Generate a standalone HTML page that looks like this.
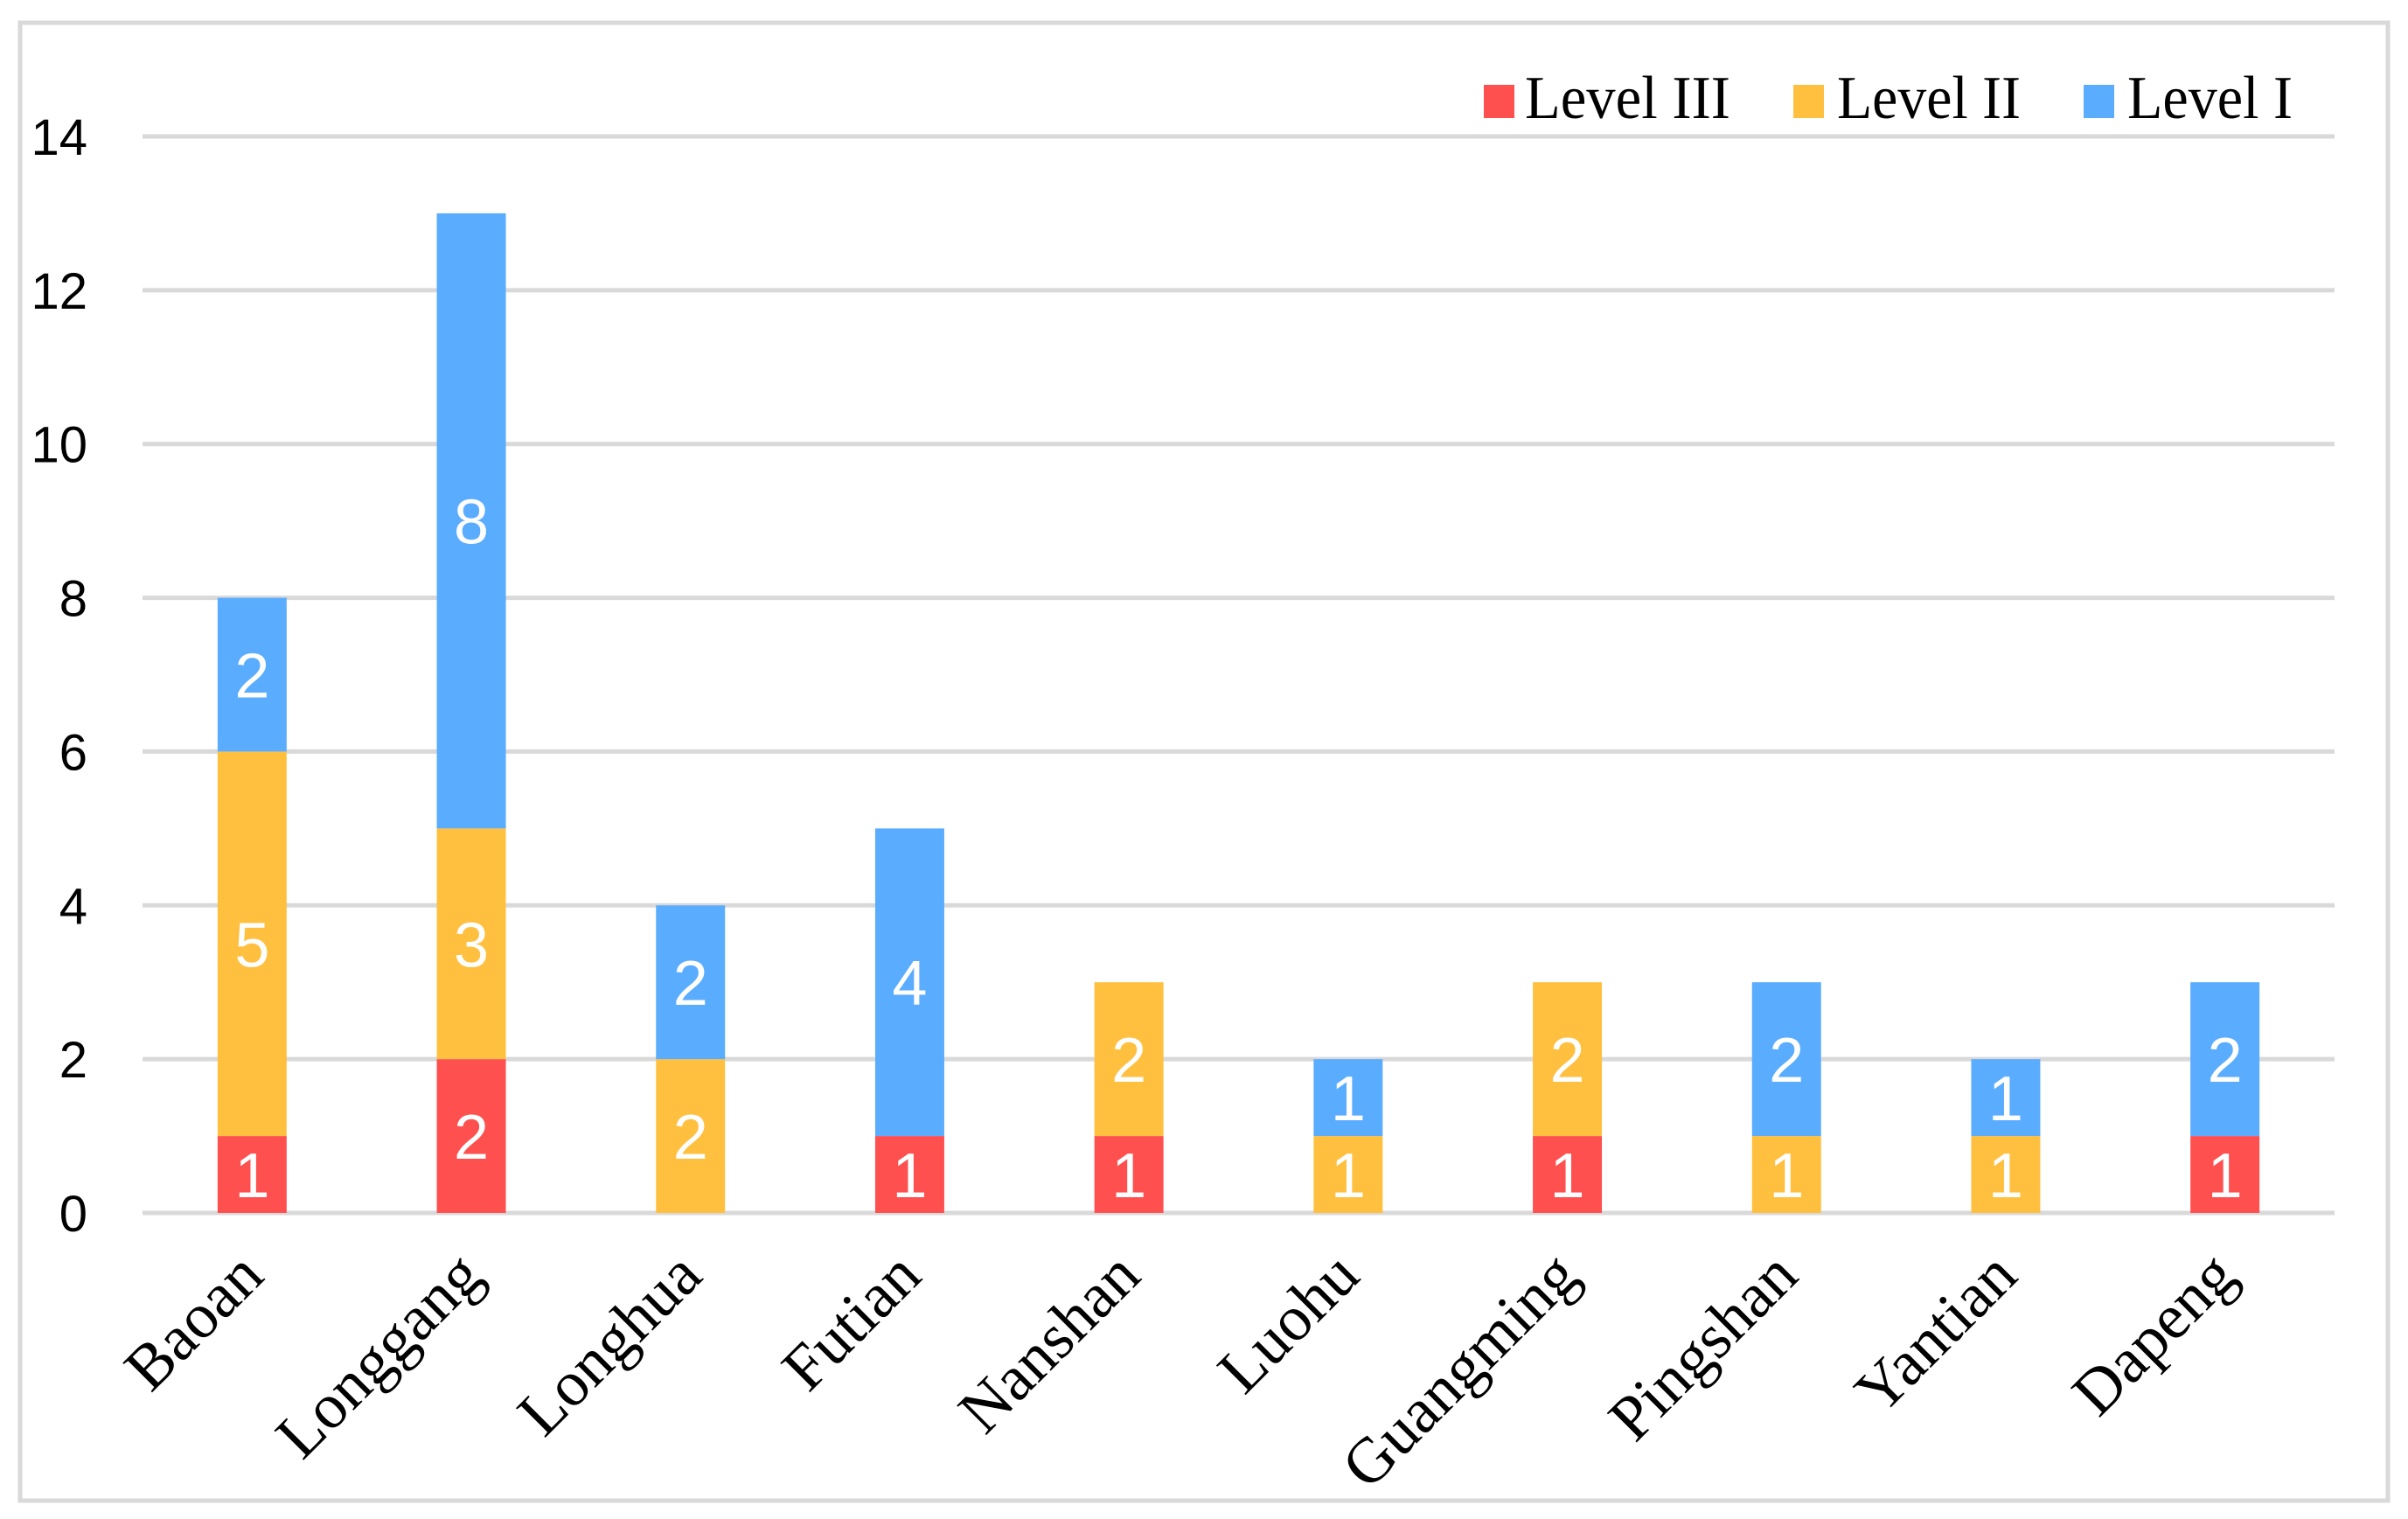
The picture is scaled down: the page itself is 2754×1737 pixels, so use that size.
<!DOCTYPE html>
<html><head><meta charset="utf-8"><style>html,body{margin:0;padding:0;background:#fff}svg{display:block}</style></head>
<body>
<svg id="chart" width="2754" height="1737" viewBox="0 0 2754 1737" xmlns="http://www.w3.org/2000/svg">
<rect x="23" y="26" width="2708" height="1690" fill="#fff" stroke="#D9D9D9" stroke-width="5"/>
<g id="grid"></g><g id="bars"></g><g id="labels"></g>
<g>
<rect x="1697" y="97" width="35" height="38" fill="#FF5050"/>
<text x="1744" y="135" font-family="Liberation Serif, serif" font-size="70" textLength="235" lengthAdjust="spacingAndGlyphs">Level III</text>
<rect x="2051" y="97" width="35" height="38" fill="#FFC040"/>
<text x="2101" y="135" font-family="Liberation Serif, serif" font-size="70" textLength="210" lengthAdjust="spacingAndGlyphs">Level II</text>
<rect x="2383" y="97" width="35" height="38" fill="#5AACFF"/>
<text x="2433" y="135" font-family="Liberation Serif, serif" font-size="70" textLength="189" lengthAdjust="spacingAndGlyphs">Level I</text>
</g>
</svg>
<script>
const categories = ["Baoan","Longgang","Longhua","Futian","Nanshan","Luohu","Guangming","Pingshan","Yantian","Dapeng"];
const levelIII = [1,2,0,1,1,0,1,0,0,1];
const levelII = [5,3,2,0,2,1,2,1,1,0];
const levelI = [2,8,2,4,0,1,0,2,1,2];
const yTicks = [0,2,4,6,8,10,12,14];

const NS = "http://www.w3.org/2000/svg";
const plotL = 163, plotR = 2670, y0 = 1387, yTop = 156, yMax = 14;
const y = v => y0 - (y0 - yTop) * v / yMax;
const band = (plotR - plotL) / categories.length;
const xc = i => plotL + band * (i + 0.5);
const barW = band * 0.315;
function mk(tag, attrs, parent) { const e = document.createElementNS(NS, tag); for (const k in attrs) e.setAttribute(k, attrs[k]); parent.appendChild(e); return e; }
const grid = document.getElementById('grid'), bars = document.getElementById('bars'), labels = document.getElementById('labels');
yTicks.forEach(t => {
  const l = mk('line', {x1: plotL, x2: plotR, y1: y(t), y2: y(t), stroke: '#D9D9D9', 'stroke-width': 5}, grid);
  
  
  const tx = mk('text', {x: 100, y: y(t) + 21, 'text-anchor': 'end', 'font-family': 'Liberation Sans, sans-serif', 'font-size': 58, fill: '#000'}, labels);
  tx.textContent = t;
  
  
});
const series = [["level-iii", levelIII, "#FF5050"], ["level-ii", levelII, "#FFC040"], ["level-i", levelI, "#5AACFF"]];
categories.forEach((c, i) => {
  let base = 0;
  series.forEach(([name, vals, col]) => {
    const v = vals[i];
    if (v > 0) {
      const r = mk('rect', {x: xc(i) - barW / 2, y: y(base + v), width: barW, height: y(base) - y(base + v), fill: col}, bars);
      
      
      const t = mk('text', {x: xc(i), y: (y(base) + y(base + v)) / 2 + 26, 'text-anchor': 'middle', 'font-family': 'Liberation Sans, sans-serif', 'font-size': 72, fill: '#fff'}, labels);
      t.textContent = v;
      
      
    }
    base += v;
  });
  const lx = xc(i) + 16, ly = 1462;
  const t = mk('text', {x: lx, y: ly, 'text-anchor': 'end', 'font-family': 'Liberation Serif, serif', 'font-size': 73, fill: '#000', transform: `rotate(-45 ${lx} ${ly})`}, labels);
  t.textContent = c;
  
  
});
</script>
</body></html>
